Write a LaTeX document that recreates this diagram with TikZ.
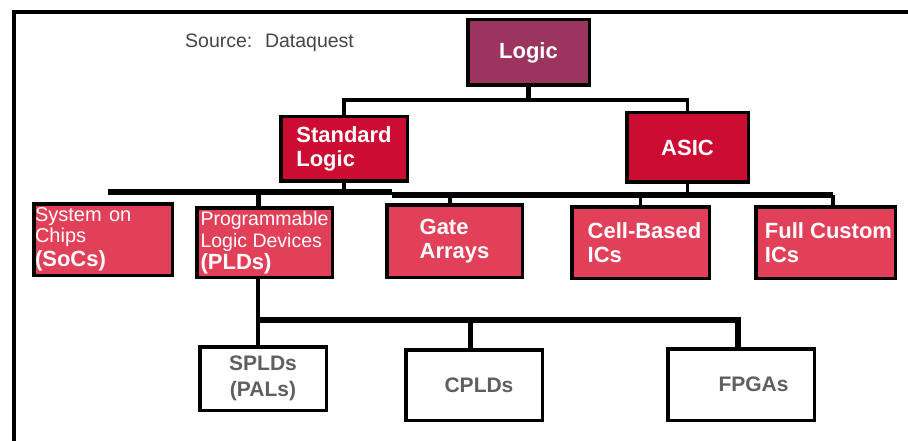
\documentclass[tikz,border=0pt]{standalone}
\usepackage{fontspec}
\setmainfont{Liberation Sans}
\usepackage{tikz}
\usetikzlibrary{arrows,shapes}
\definecolor{logicpurple}{RGB}{155,52,95}
\definecolor{classred}{RGB}{205,12,50}
\definecolor{familyred}{RGB}{226,64,89}
\definecolor{sourcegray}{RGB}{70,70,70}
\definecolor{leafgray}{RGB}{95,95,95}
\tikzstyle{topbox}=[rectangle,draw,line width=3.5pt,fill=logicpurple,text=white,font=\bfseries\fontsize{22}{24}\selectfont,inner sep=0pt]
\tikzstyle{classbox}=[rectangle,draw,line width=3.5pt,fill=classred,text=white,font=\bfseries\fontsize{22}{24}\selectfont,align=left,inner sep=0pt]
\tikzstyle{familybox}=[rectangle,draw,line width=3.5pt,fill=familyred,text=white,font=\bfseries\fontsize{22}{24}\selectfont,align=left,inner sep=0pt]
\tikzstyle{leafbox}=[rectangle,draw,line width=3.5pt,fill=white,text=leafgray,font=\bfseries\fontsize{21}{26}\selectfont,align=center,inner sep=0pt]
\tikzstyle{conn} = [draw,line width=3.5pt,-]
\tikzstyle{stem} = [draw,line width=5pt,-]
\tikzstyle{bus} = [draw,line width=5.5pt,-]

\begin{document}
\begin{tikzpicture}[x=1pt,y=-1pt]
    \useasboundingbox (0,0) rectangle (908,441);
    \fill[white] (0,0) rectangle (908,441);
    % Frame and source note
    \draw[line width=4pt] (13.5,441) -- (13.5,12) -- (908,12);
    \node[font=\fontsize{19.5}{20}\selectfont,text=sourcegray,anchor=base west,inner sep=0pt] (source) at (185,48) {Source: \ Dataquest};
    % First we draw the boxes, level by level
    \node[topbox,minimum width=121.5pt,minimum height=65.5pt] (Logic) at (528.5,52.5) {\raisebox{-3pt}{Logic}};
    \node[classbox,minimum width=126.5pt,minimum height=64.5pt] (Standard) at (344,149) {Standard\\Logic};
    \node[classbox,minimum width=121.5pt,minimum height=69.5pt] (ASIC) at (687.5,147.5) {ASIC};
    \node[familybox,minimum width=138.5pt,minimum height=71.5pt,inner xsep=1.25pt,text width=136pt] (SoC) at (103,239.5)
        {\mdseries\fontsize{20}{21}\selectfont System on\\Chips\\\bfseries\fontsize{22}{22}\selectfont (SoCs)};
    \node[familybox,minimum width=135.5pt,minimum height=69.5pt] (PLD) at (264.5,242.5)
        {{\mdseries\fontsize{19.5}{22}\selectfont Programmable}\\[-2pt]{\mdseries\fontsize{19.5}{22}\selectfont Logic Devices}\\[-2pt](PLDs)};
    \node[familybox,minimum width=135.5pt,minimum height=72.5pt] (Gate) at (454.5,241) {Gate\\Arrays};
    \node[familybox,minimum width=137.5pt,minimum height=71.5pt] (Cell) at (640.5,242.5) {\hspace*{8pt}Cell-Based\\\hspace*{8pt}ICs};
    \node[familybox,minimum width=139.5pt,minimum height=71.5pt] (Full) at (825.5,242.5) {\hspace*{6pt}Full Custom\\\hspace*{6pt}ICs};
    \node[leafbox,minimum width=126.5pt,minimum height=63.5pt] (SPLD) at (263,378.5) {SPLDs\\(PALs)};
    \node[leafbox,minimum width=136.5pt,minimum height=70.5pt] (CPLD) at (474,385) {\hspace*{10pt}CPLDs};
    \node[leafbox,minimum width=146.5pt,minimum height=71.5pt] (FPGA) at (741,384.5) {\hspace*{25pt}FPGAs};
    % Bus points
    \coordinate (topbus) at (526,100);
    \coordinate (stdbusL) at (108,192);
    \coordinate (stdbusR) at (392,192);
    \coordinate (asicbusL) at (392,195);
    \coordinate (asicbusR) at (833,195);
    \coordinate (pldbusL) at (258,320);
    \coordinate (pldbusR) at (738,320);
    % Logic to the two classes
    \path[stem] (Logic.south) -- (Logic.south |- topbus);
    \path[conn] (Standard.north) |- (topbus) -| (ASIC.north);
    % Classes to the families
    \path[bus] (stdbusL) -- (stdbusR);
    \path[bus] (asicbusL) -- (asicbusR);
    \path[conn] (Standard.south) -- (Standard.south |- stdbusL);
    \path[conn] (ASIC.south) -- (ASIC.south |- asicbusL);
    \path[stem] ([xshift=-6.5pt]PLD.north) -- ([xshift=-6.5pt]PLD.north |- stdbusL);
    \path[conn] ([xshift=-4.5pt]Gate.north) -- ([xshift=-4.5pt]Gate.north |- asicbusL);
    \path[conn] (Cell.north) -- (Cell.north |- asicbusL);
    \path[conn] (Full.north -| asicbusR) -- (asicbusR);
    % PLDs to the devices
    \path[conn] ([xshift=-6.5pt]PLD.south) -- ([xshift=-5pt]SPLD.north);
    \path[bus] (pldbusL) -- (pldbusR) -- (pldbusR |- FPGA.north);
    \path[stem] ([xshift=-4pt]CPLD.north) -- ([xshift=-4pt]CPLD.north |- pldbusL);
\end{tikzpicture}
\end{document}
